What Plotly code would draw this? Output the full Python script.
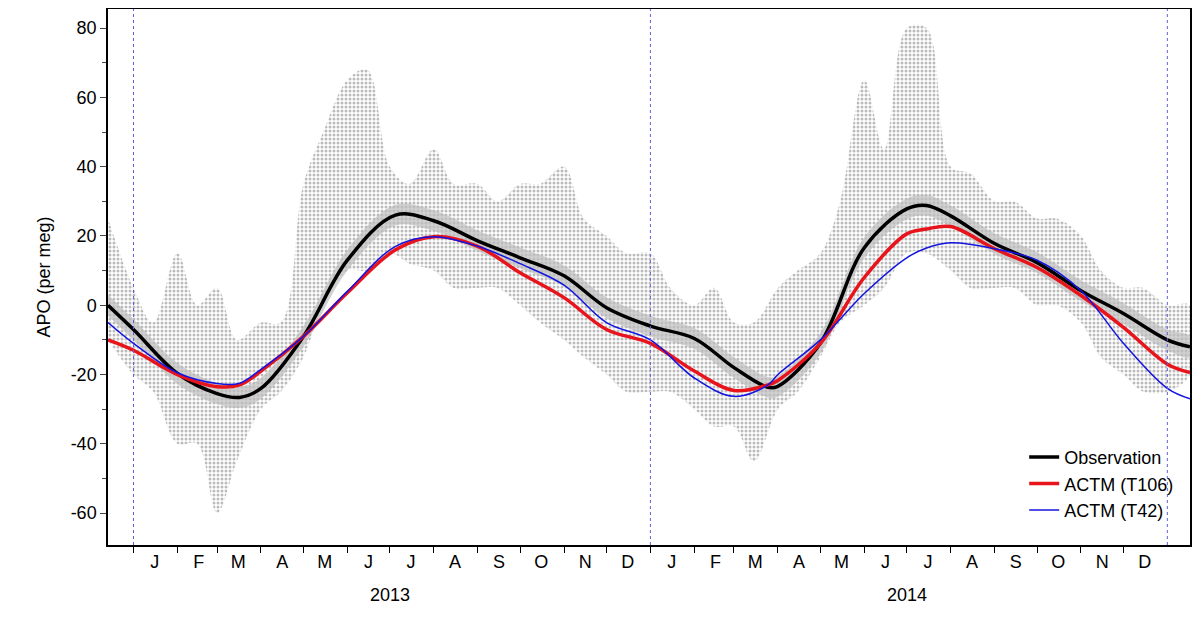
import plotly.graph_objects as go

# curve values read at month starts (plus extrema and range ends)
dates = ["2012-12-14", "2013-01-01", "2013-02-01", "2013-03-01", "2013-03-17", "2013-04-01",
         "2013-05-01", "2013-06-01", "2013-07-05", "2013-08-01", "2013-09-01",
         "2013-10-01", "2013-11-01", "2013-12-01", "2014-01-01", "2014-02-01", "2014-03-01",
         "2014-03-25", "2014-04-01", "2014-05-01", "2014-06-01", "2014-07-01", "2014-07-15",
         "2014-08-01", "2014-09-01", "2014-10-01", "2014-11-01", "2014-12-01", "2015-01-01",
         "2015-01-17"]
obs = [0, -7, -19.7, -25.5, -26.6, -24, -9, 13, 26, 24.4, 18.6, 13.7, 8.5, -0.7, -6,
       -9.6, -18, -23.7, -23.4, -11, 16.6, 27.8, 28.8, 25.8, 17.8, 12.3, 4.2, -2.4, -10, -12]
t106 = [-10, -13, -20, -23.5, -23, -19, -9, 3.6, 16, 19.8, 17, 9.4, 2.2, -7, -11, -19,
        -24.6, -23, -21.7, -11, 8, 20.6, 22, 22.7, 16.3, 10.9, 2.8, -6.4, -17, -19.4]
t42 = [-5, -11, -19.5, -22.6, -22.5, -18.5, -9, 4, 17, 19.8, 17, 12, 5.8, -5, -10, -21,
       -26.3, -23, -20, -10, 3.4, 13.7, 16.5, 18, 16.3, 13, 4.2, -11, -24, -27]

# scatter envelope of the observed data, twice a month
env_dates = ["2012-12-14", "2013-01-01", "2013-01-15", "2013-02-01", "2013-02-15", "2013-03-01",
             "2013-03-15", "2013-04-01", "2013-04-15", "2013-05-01", "2013-05-15", "2013-06-01",
             "2013-06-15", "2013-07-01", "2013-07-15", "2013-08-01", "2013-08-15", "2013-09-01",
             "2013-09-15", "2013-10-01", "2013-10-15", "2013-11-01", "2013-11-15", "2013-12-01",
             "2013-12-15", "2014-01-01", "2014-01-15", "2014-02-01", "2014-02-15", "2014-03-01",
             "2014-03-15", "2014-04-01", "2014-04-15", "2014-05-01", "2014-05-15", "2014-06-01",
             "2014-06-15", "2014-07-01", "2014-07-15", "2014-08-01", "2014-08-15", "2014-09-01",
             "2014-09-15", "2014-10-01", "2014-10-15", "2014-11-01", "2014-11-15", "2014-12-01",
             "2014-12-15", "2015-01-01", "2015-01-17"]
env_low = [-10, -20, -25, -40, -40, -60, -45, -30, -25, -15, 0, 10, 10, 15, 12, 10, 5, 5, 5, 0,
           -5, -10, -15, -20, -25, -25, -25, -30, -35, -35, -45, -30, -25, -15, -5, 0, 5, 15, 15,
           10, 5, 5, 5, 0, 0, -5, -15, -20, -25, -25, -20]
env_high = [25, 5, -5, 15, 0, 5, -10, -5, -5, 35, 50, 65, 68, 40, 35, 45, 35, 35, 30, 35, 35,
            40, 25, 20, 15, 15, 5, 0, 5, -5, -5, 5, 10, 15, 30, 65, 45, 80, 80, 40, 38, 30, 30,
            25, 25, 20, 10, 5, 5, 0, 0]

yticks = [-60, -40, -20, 0, 20, 40, 60, 80]

fig = go.Figure()
fig.add_trace(go.Scatter(x=env_dates + env_dates[::-1], y=env_high + env_low[::-1],
                         fill="toself", mode="none", line_shape="spline", showlegend=False,
                         fillcolor="rgba(0,0,0,0)",
                         fillpattern=dict(shape=".", fgcolor="#777777", bgcolor="white",
                                          size=4, solidity=0.45)))
band_hi = [v + 3 for v in obs]
band_lo = [v - 3 for v in obs]
fig.add_trace(go.Scatter(x=dates + dates[::-1], y=band_hi + band_lo[::-1], fill="toself",
                         mode="none", fillcolor="rgba(190,190,190,0.7)", showlegend=False,
                         line_shape="spline"))
fig.add_trace(go.Scatter(x=dates, y=obs, mode="lines", line=dict(color="black", width=3.5, shape="spline"),
                         name="Observation"))
fig.add_trace(go.Scatter(x=dates, y=t106, mode="lines", line=dict(color="#e8141c", width=3.5, shape="spline"),
                         name="ACTM (T106)"))
fig.add_trace(go.Scatter(x=dates, y=t42, mode="lines", line=dict(color="#1414e0", width=1.5, shape="spline"),
                         name="ACTM (T42)"))

for d in ["2013-01-01", "2014-01-01", "2015-01-01"]:
    fig.add_vline(x=d, line=dict(color="#6060e0", width=1, dash="dot"))

months = "JFMAMJJASOND"
tickvals, ticktext = [], []
for y in (2013, 2014):
    for m in range(12):
        tickvals.append(f"{y}-{m + 1:02d}-16")
        ticktext.append(months[m])

for y in (2013, 2014):
    fig.add_annotation(x=f"{y}-07-01", y=-0.115, yref="paper", text=str(y), showarrow=False,
                       font=dict(size=18, color="black"))

fig.update_layout(
    width=1192, height=621, plot_bgcolor="white", paper_bgcolor="white",
    margin=dict(l=100, r=10, t=1, b=84, autoexpand=False),
    font=dict(family="Liberation Sans, Arial", size=18, color="black"),
    legend=dict(x=0.99, y=0.03, xanchor="right", yanchor="bottom", bgcolor="rgba(0,0,0,0)",
                font=dict(size=18)),
)
fig.update_xaxes(range=["2012-12-14", "2015-01-17"], tickvals=tickvals, ticktext=ticktext,
                 showgrid=False, showline=True, linecolor="black", linewidth=1.5, mirror=True,
                 ticks="", tickfont=dict(size=18), automargin=False,
                 minor=dict(tickvals=[f"{y}-{m:02d}-01" for y in (2013, 2014) for m in range(1, 13)],
                            ticks="outside", ticklen=6, tickcolor="black"))
fig.update_yaxes(range=[-69.2, 85.5], tickvals=yticks, ticktext=[str(v) for v in yticks],
                 showgrid=False, showline=True, linecolor="black", automargin=False,
                 linewidth=1.5, mirror=True, ticks="outside", ticklen=6, zeroline=False,
                 title=dict(text="APO (per meg)", font=dict(size=18)), tickfont=dict(size=18),
                 minor=dict(dtick=10, ticks="outside", ticklen=4))

fig.write_html("out.html")
